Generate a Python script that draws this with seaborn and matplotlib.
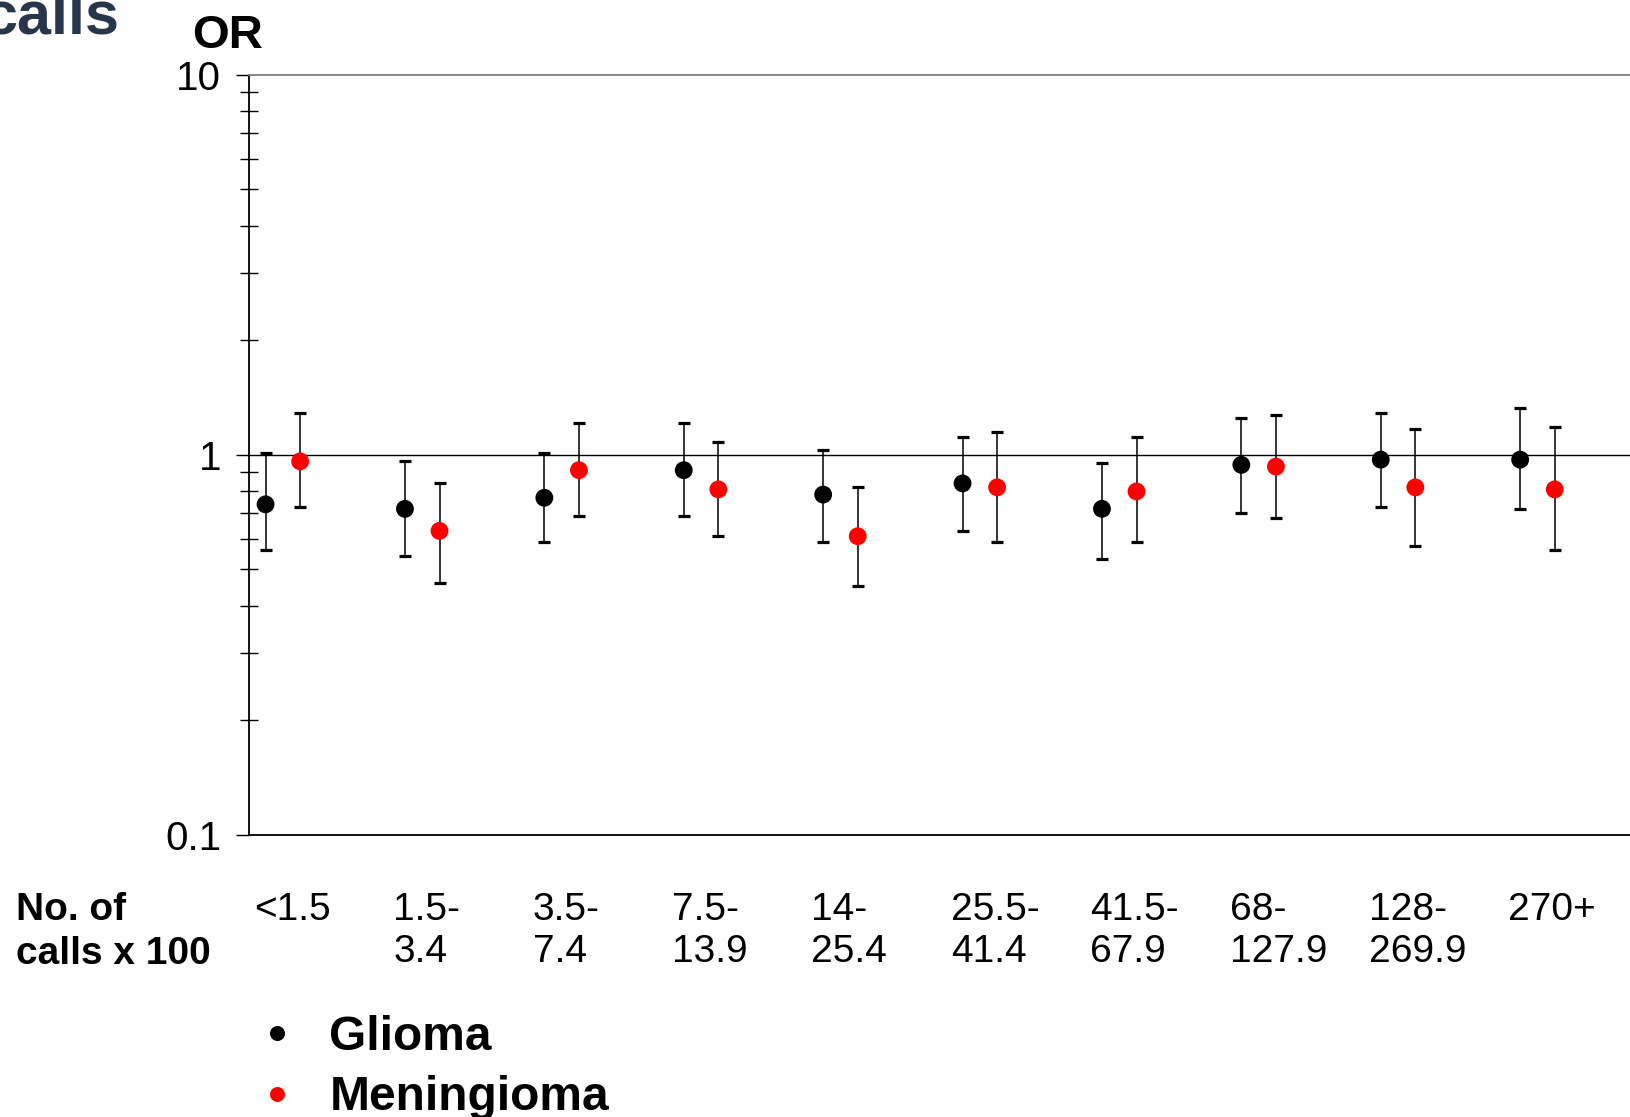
#!/usr/bin/python3

"""Odds ratios of glioma and meningioma by cumulative number of calls."""

# %% Import dependencies ----
import pandas as pd
import numpy as np
import matplotlib
matplotlib.use('Agg')
import matplotlib.pyplot as plt
import matplotlib.transforms as mtransforms
from matplotlib.ticker import LogLocator, NullFormatter, FixedLocator
import seaborn as sns


# %% Data ----
categories = ['<1.5', '1.5-\n3.4', '3.5-\n7.4', '7.5-\n13.9', '14-\n25.4',
              '25.5-\n41.4', '41.5-\n67.9', '68-\n127.9', '128-\n269.9', '270+']

glioma_or = [0.74, 0.72, 0.77, 0.91, 0.785, 0.84, 0.72, 0.94, 0.97, 0.97]
glioma_lo = [0.56, 0.54, 0.59, 0.69, 0.59, 0.63, 0.53, 0.70, 0.73, 0.72]
glioma_hi = [1.01, 0.96, 1.01, 1.21, 1.03, 1.11, 0.95, 1.25, 1.29, 1.33]

mening_or = [0.96, 0.63, 0.91, 0.81, 0.61, 0.82, 0.80, 0.93, 0.82, 0.81]
mening_lo = [0.73, 0.46, 0.69, 0.61, 0.45, 0.59, 0.59, 0.68, 0.575, 0.56]
mening_hi = [1.29, 0.84, 1.21, 1.08, 0.82, 1.15, 1.11, 1.27, 1.17, 1.18]

y_ticks = [0.1, 1, 10]
y_tick_labels = ['0.1', '1', '10']


# %% Tidy table ----
offset = 0.124  # dodge between the two tumour types
idx = np.arange(len(categories))
df = pd.concat([
    pd.DataFrame({'tumour': 'Glioma', 'x': idx - offset,
                  'OR': glioma_or, 'lo': glioma_lo, 'hi': glioma_hi}),
    pd.DataFrame({'tumour': 'Meningioma', 'x': idx + offset,
                  'OR': mening_or, 'lo': mening_lo, 'hi': mening_hi}),
], ignore_index=True)

palette = {'Glioma': '#000000', 'Meningioma': '#ff0000'}


# %% Plot ----
sns.set_theme(style='white')
plt.rcParams['font.family'] = ['Liberation Sans', 'DejaVu Sans']
plt.rcParams['text.color'] = 'black'
plt.rcParams['xtick.color'] = 'black'
plt.rcParams['ytick.color'] = 'black'
narrow = ['Liberation Sans Narrow', 'Liberation Sans', 'DejaVu Sans']

fig = plt.figure(figsize=(16.3, 11.17), dpi=100)
ax = fig.add_axes([0.153, 0.2527, 0.847, 0.6806])

# error bars first, points on top
for name, sub in df.groupby('tumour'):
    ax.errorbar(sub['x'], sub['OR'],
                yerr=[sub['OR'] - sub['lo'], sub['hi'] - sub['OR']],
                fmt='none', ecolor='black', elinewidth=1.1,
                capsize=4.5, capthick=2.3, zorder=2)

sns.scatterplot(data=df, x='x', y='OR', hue='tumour', palette=palette,
                s=165, edgecolor='none', linewidth=0, zorder=3, ax=ax)

ax.axhline(1, color='black', lw=1.0, zorder=1)

# axes
ax.set_yscale('log')
ax.set_ylim(0.1, 10)
ax.set_xlim(-0.24, 9.664)
ax.yaxis.set_major_locator(FixedLocator(y_ticks))
ax.set_yticklabels(y_tick_labels)
ax.yaxis.set_minor_locator(LogLocator(base=10, subs=np.arange(2, 10)))
ax.yaxis.set_minor_formatter(NullFormatter())
ax.tick_params(axis='y', which='major', direction='out', length=9.4,
               width=1.0, color='black', pad=11, labelsize=29,
               labelcolor='black', left=True)
ax.tick_params(axis='y', which='minor', direction='inout', length=13,
               width=1.0, color='black', left=True)

ax.set_xticks(idx)
ax.set_xticklabels(categories, fontsize=28, family=narrow, ha='left',
                   multialignment='left', linespacing=1.23, color='black')
ax.tick_params(axis='x', length=0, pad=41)
shift = mtransforms.ScaledTranslation(-0.29, 0, fig.dpi_scale_trans)
for lbl in ax.get_xticklabels():
    lbl.set_transform(lbl.get_transform() + shift)

ax.set_xlabel('')
ax.set_ylabel('')

for side in ['left', 'bottom']:
    ax.spines[side].set_color('black')
    ax.spines[side].set_linewidth(1.3)
ax.spines['top'].set_color('#7f7f7f')
ax.spines['top'].set_linewidth(1.3)
ax.spines['right'].set_visible(False)

# legend
handles, labels = ax.get_legend_handles_labels()
ax.get_legend().remove()
fig.legend(handles, labels, loc='upper left',
           bbox_to_anchor=(252.6 / 1630, 1 - 1015 / 1117),
           frameon=False, markerscale=0.84, handlelength=1.0,
           handletextpad=0.6, labelspacing=0.32, borderpad=0,
           borderaxespad=0, prop={'size': 34.5, 'weight': 'bold'},
           labelcolor='black')

# texts around the axes
fig.text(227.5 / 1630, 1 - 48 / 1117, 'OR', ha='center', va='baseline',
         fontsize=34, fontweight='bold')
fig.text(15.6 / 1630, 1 - 932 / 1117, 'No. of\ncalls x 100', ha='left',
         va='center', fontsize=28, fontweight='bold', family=narrow,
         linespacing=1.25)
fig.text(120 / 1630, 1 - 34 / 1117, 'calls', ha='right', va='baseline',
         fontsize=44, fontweight='bold', color='#27364b')

fig.savefig('out.png', dpi=100)
